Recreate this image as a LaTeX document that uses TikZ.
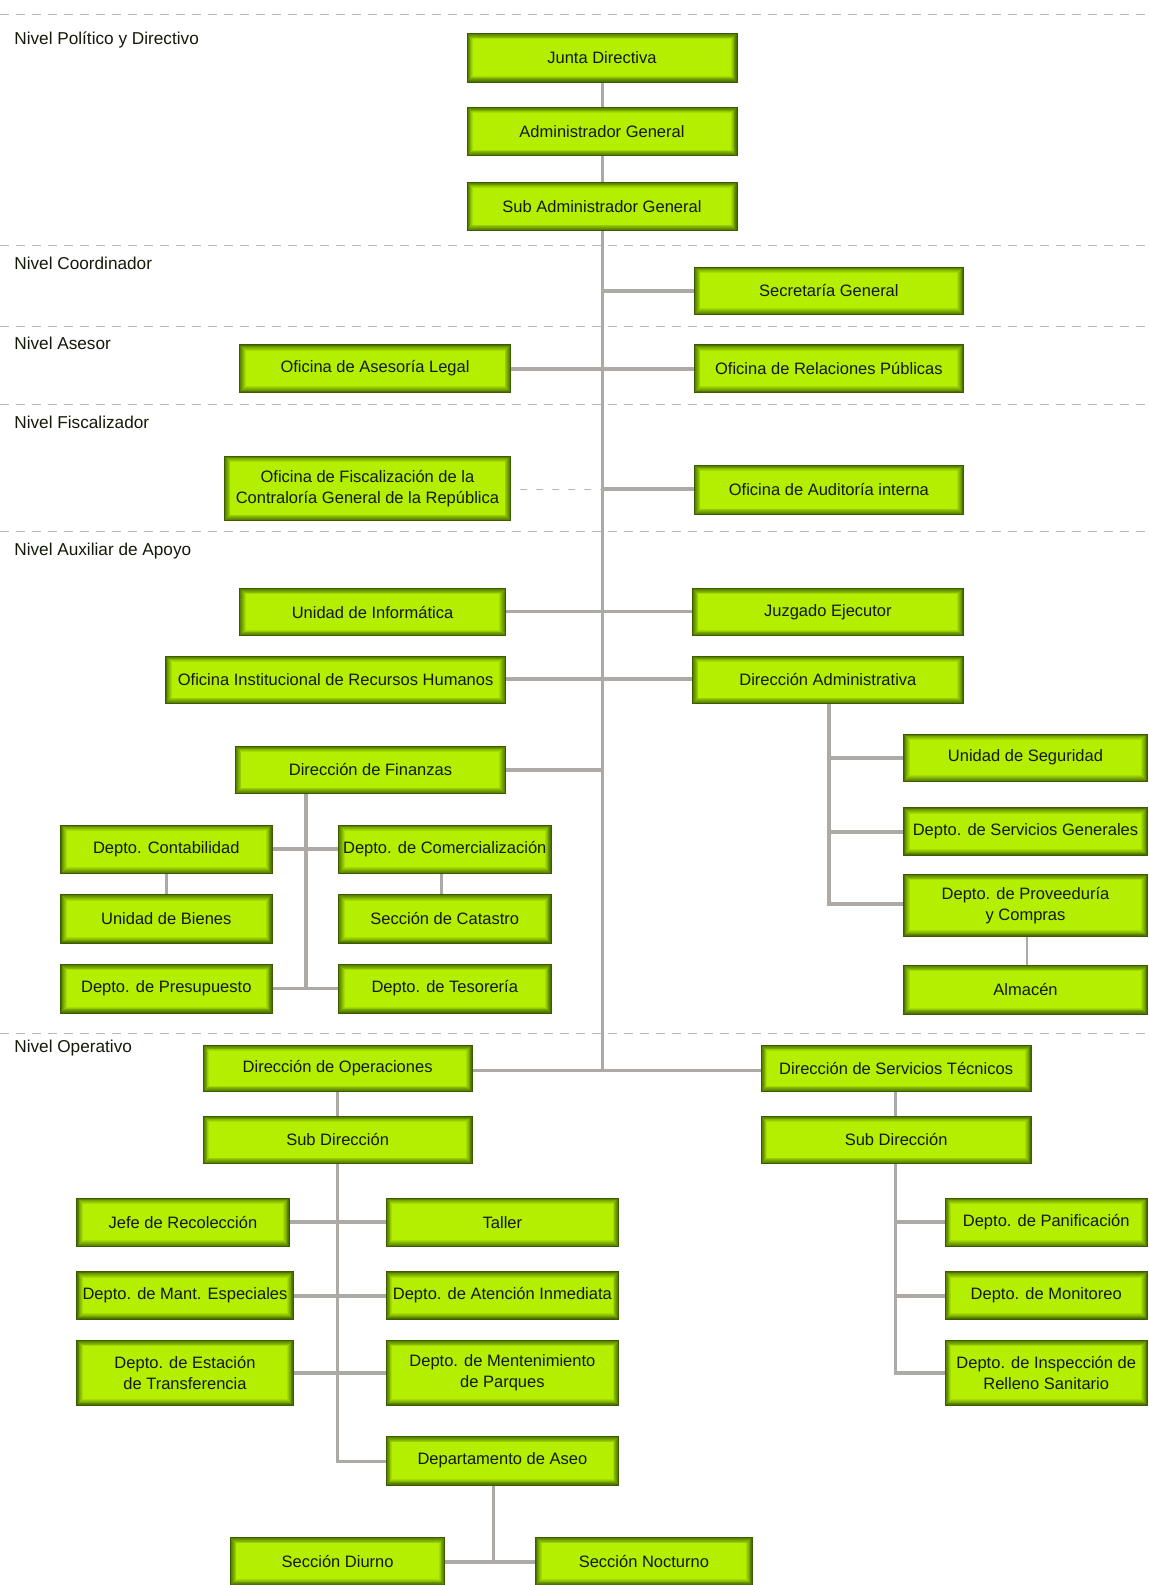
\documentclass[tikz,border=0pt]{standalone}
\usepackage{fontspec}
\setmainfont{Liberation Sans}
\definecolor{glowout}{HTML}{4A7400}
\definecolor{glowin}{HTML}{B4EE00}
\definecolor{boxline}{HTML}{3C5A00}
\definecolor{conn}{HTML}{ADA9A5}
\definecolor{sepc}{HTML}{B9B9B9}
\definecolor{txt}{HTML}{141A0A}
\tikzset{
  x=1.0106pt, y=-1.0106pt,
  orgbox/.style={rectangle, inner sep=2pt, align=center, text=txt,
    font=\fontsize{16.5}{21}\selectfont, draw=boxline, line width=0.7pt,
    path picture={
      \foreach \k in {0,...,7}{
        \pgfmathtruncatemacro\p{\k*100/7}
        \pgfmathsetmacro\ins{\k*0.85}
        \fill[glowin!\p!glowout]
          ([shift={(\ins pt,\ins pt)}]path picture bounding box.south west)
          rectangle ([shift={(-\ins pt,-\ins pt)}]path picture bounding box.north east);
      }
    }},
  lvl/.style={anchor=west, inner sep=0pt, text=txt, font=\fontsize{17.2}{20}\selectfont},
  conline/.style={draw=conn, line width=3.6pt},
  thinline/.style={draw=conn, line width=2.6pt},
  sepline/.style={draw=sepc, line width=1.1pt, dash pattern=on 9pt off 7pt},
}
\newcommand\orgnode[6]{\node[orgbox, minimum width={(#4-#2)*1.0106pt}, minimum height={(#5-#3)*1.0106pt}] (#1) at ({(#2+#4)/2},{(#3+#5)/2}) {#6};}
\begin{document}
\begin{tikzpicture}
\useasboundingbox[fill=white] (0,0) rectangle (1136,1568);
% separators
\foreach \yy in {14,243,323,400,526,1022}{\draw[sepline] (0,\yy) -- (1136,\yy);}
% level labels
\node[lvl] (l1) at (14,40) {Nivel Político y Directivo};
\node[lvl] (l2) at (14,261) {Nivel Coordinador};
\node[lvl] (l3) at (14,340) {Nivel Asesor};
\node[lvl] (l4) at (14,418) {Nivel Fiscalizador};
\node[lvl] (l5) at (14,545) {Nivel Auxiliar de Apoyo};
\node[lvl] (l6) at (14,1037) {Nivel Operativo};
% coordinates for connectors
\coordinate (ttop) at (596,228);
\coordinate (tbot) at (596,1059);
\coordinate (tsec) at (596,288);
\coordinate (tfis) at (596,484);
\coordinate (tfin) at (596,762);
\coordinate (fs) at (303,785);
\coordinate (fe) at (303,978);
\coordinate (as) at (820,696);
\coordinate (ae) at (820,894);
\coordinate (ls) at (334,1151);
\coordinate (le) at (334,1446);
\coordinate (rs) at (886,1151);
\coordinate (re) at (886,1358);
\coordinate (dA) at (488,1469);
\coordinate (dB) at (488,1545);
% connectors (drawn under boxes)
\draw[thinline] (596,81) -- (596,106);
\draw[thinline] (596,154) -- (596,180);
\draw[conline] (ttop) -- (tbot);
\draw[conline] (tsec) -- (687,288);
\draw[conline] (505,365) -- (687,365);
\draw[sepline, line width=1.4pt, dash pattern=on 7pt off 9pt] (514,484) -- (tfis);
\draw[conline] (tfis) -- (687,484);
\draw[conline] (500,605) -- (685,605);
\draw[conline] (500,672) -- (685,672);
\draw[conline] (500,762) -- (tfin);
\draw[conline] (fs) -- (fe);
\draw[conline] (269,840) -- (335,840);
\draw[conline] (269,978) -- (fe) -- (335,978);
\draw[thinline] (165,864) -- (165,885);
\draw[thinline] (437,864) -- (437,885);
\draw[conline] (as) -- (ae) -- (894,894);
\draw[conline] (820,750) -- (894,750);
\draw[conline] (820,823) -- (894,823);
\draw[thinline] (1016,926) -- (1016,955);
\draw[conline] (467,1059) -- (753,1059);
\draw[thinline] (334,1080) -- (334,1104);
\draw[thinline] (886,1080) -- (886,1104);
\draw[conline] (ls) -- (le) -- (382,1446);
\draw[conline] (286,1209) -- (382,1209);
\draw[conline] (290,1282) -- (382,1282);
\draw[conline] (290,1358) -- (382,1358);
\draw[conline] (rs) -- (re) -- (935,1358);
\draw[conline] (886,1209) -- (935,1209);
\draw[conline] (886,1282) -- (935,1282);
\draw[thinline] (dA) -- (dB);
\draw[conline] (440,1545) -- (530,1545);
% boxes
\orgnode{junta}{462}{33}{729}{81}{Junta Directiva}
\orgnode{admin}{462}{106}{729}{154}{Administrador General}
\orgnode{subadmin}{462}{180}{729}{228}{Sub Administrador General}
\orgnode{secgen}{687}{264}{953}{311}{Secretaría General}
\orgnode{legal}{237}{341}{505}{388}{Oficina de Asesoría Legal}
\orgnode{relpub}{687}{341}{953}{388}{Oficina de Relaciones Públicas}
\orgnode{fisc}{222}{451}{505}{515}{Oficina de Fiscalización de la\\Contraloría General de la República}
\orgnode{audit}{687}{460}{953}{509}{Oficina de Auditoría interna}
\orgnode{inform}{237}{582}{500}{629}{Unidad de Informática}
\orgnode{juzgado}{685}{582}{953}{629}{Juzgado Ejecutor}
\orgnode{rrhh}{164}{649}{500}{696}{Oficina Institucional de Recursos Humanos}
\orgnode{diradm}{685}{649}{953}{696}{Dirección Administrativa}
\orgnode{finanzas}{233}{738}{500}{785}{Dirección de Finanzas}
\orgnode{contab}{60}{816}{269}{864}{Depto. Contabilidad}
\orgnode{comerc}{335}{816}{545}{864}{Depto. de Comercialización}
\orgnode{bienes}{60}{885}{269}{933}{Unidad de Bienes}
\orgnode{catastro}{335}{885}{545}{933}{Sección de Catastro}
\orgnode{presup}{60}{954}{269}{1002}{Depto. de Presupuesto}
\orgnode{tesor}{335}{954}{545}{1002}{Depto. de Tesorería}
\orgnode{seguridad}{894}{726}{1135}{773}{Unidad de Seguridad}
\orgnode{servgen}{894}{799}{1135}{846}{Depto. de Servicios Generales}
\orgnode{proveed}{894}{865}{1135}{926}{Depto. de Proveeduría\\y Compras}
\orgnode{almacen}{894}{955}{1135}{1003}{Almacén}
\orgnode{dirop}{201}{1034}{467}{1080}{Dirección de Operaciones}
\orgnode{dirst}{753}{1034}{1020}{1080}{Dirección de Servicios Técnicos}
\orgnode{subl}{201}{1104}{467}{1151}{Sub Dirección}
\orgnode{subr}{753}{1104}{1020}{1151}{Sub Dirección}
\orgnode{jefe}{76}{1185}{286}{1233}{Jefe de Recolección}
\orgnode{taller}{382}{1185}{612}{1233}{Taller}
\orgnode{mant}{76}{1258}{290}{1305}{Depto. de Mant. Especiales}
\orgnode{atenc}{382}{1258}{612}{1305}{Depto. de Atención Inmediata}
\orgnode{estac}{76}{1326}{290}{1390}{Depto. de Estación\\de Transferencia}
\orgnode{parques}{382}{1326}{612}{1390}{Depto. de Mentenimiento\\de Parques}
\orgnode{aseo}{382}{1421}{612}{1469}{Departamento de Aseo}
\orgnode{diurno}{228}{1521}{440}{1568}{Sección Diurno}
\orgnode{nocturno}{530}{1521}{744}{1568}{Sección Nocturno}
\orgnode{panif}{935}{1185}{1135}{1233}{Depto. de Panificación}
\orgnode{monit}{935}{1258}{1135}{1305}{Depto. de Monitoreo}
\orgnode{inspec}{935}{1326}{1135}{1390}{Depto. de Inspección de\\Relleno Sanitario}
\end{tikzpicture}
\end{document}
